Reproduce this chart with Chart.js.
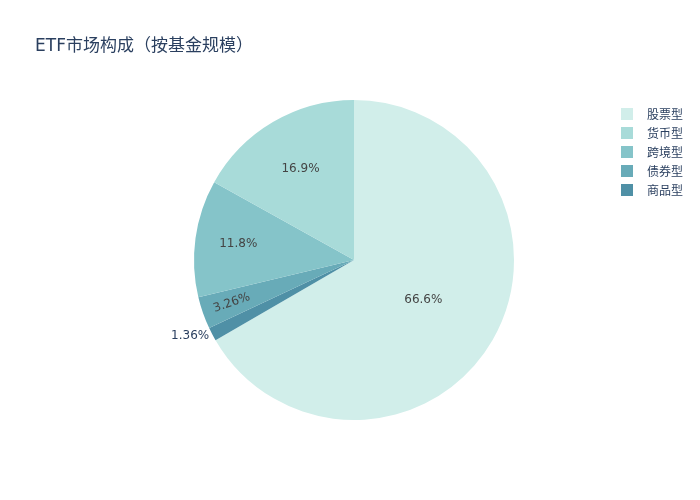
<!DOCTYPE html>
<html>
<head>
<meta charset="utf-8">
<script src="https://cdn.jsdelivr.net/npm/chart.js@4.4.1/dist/chart.umd.min.js"></script>
<style>
  html, body { margin: 0; padding: 0; background: #fff; }
  #wrap { position: relative; width: 700px; height: 500px; font-family: "DejaVu Sans", "Noto Sans CJK SC", sans-serif; color: #2a3f5f; }
  #title { position: absolute; left: 35px; top: 33px; font-size: 17px; line-height: 24px; white-space: nowrap; }
  #legend { position: absolute; left: 621px; top: 104px; font-size: 12px; }
  .item { display: flex; align-items: center; height: 19px; }
  .box { width: 12px; height: 12px; margin-right: 14px; }
</style>
</head>
<body>
<div id="wrap">
  <canvas id="myChart" width="700" height="500"></canvas>
  <div id="title">ETF市场构成（按基金规模）</div>
  <div id="legend"></div>
</div>
<script>
// legend order
var categories = ["股票型", "货币型", "跨境型", "债券型", "商品型"]
var values = [66.58, 16.9, 11.8, 3.26, 1.36]
var colors = ["rgb(209, 238, 234)", "rgb(168, 219, 217)", "rgb(133, 196, 201)", "rgb(104, 171, 184)", "rgb(79, 144, 166)"]
// order the slices go round clockwise from 12 o'clock
var drawOrder = [0, 4, 3, 2, 1]

var labels = drawOrder.map(function(i){ return categories[i] })
var data = drawOrder.map(function(i){ return values[i] })
var bg = drawOrder.map(function(i){ return colors[i] })

function fmtPct(v, total){
    var p = v / total * 100
    return Number(p.toPrecision(3)) + "%"
}

var pieLabels = {
    id: "pieLabels",
    afterDatasetsDraw: function(chart){
        var ctx = chart.ctx
        var meta = chart.getDatasetMeta(0)
        var ds = chart.data.datasets[0].data
        var total = ds.reduce(function(a, b){ return a + b }, 0)
        ctx.save()
        ctx.font = '12px "DejaVu Sans", "Noto Sans CJK SC", sans-serif'
        ctx.textBaseline = "middle"
        meta.data.forEach(function(arc, i){
            var p = arc.getProps(["x", "y", "startAngle", "endAngle", "outerRadius"], true)
            var span = p.endAngle - p.startAngle
            var mid = (p.startAngle + p.endAngle) / 2
            var txt = fmtPct(ds[i], total)
            var deg = span * 180 / Math.PI
            if (deg < 8) {
                // too thin, put it outside
                var ex = p.x + Math.cos(mid) * p.outerRadius
                var ey = p.y + Math.sin(mid) * p.outerRadius
                var left = Math.cos(mid) < 0
                ctx.fillStyle = "#2a3f5f"
                ctx.textAlign = left ? "right" : "left"
                ctx.fillText(txt, ex + (left ? -3 : 3), ey + 2)
            } else if (deg < 20) {
                // narrow slice, text along the radius
                var r = p.outerRadius * 0.81
                ctx.save()
                ctx.fillStyle = "#444"
                ctx.translate(p.x + Math.cos(mid) * r, p.y + Math.sin(mid) * r)
                var rot = mid
                if (Math.cos(mid) < 0) rot = mid - Math.PI
                ctx.rotate(rot)
                ctx.textAlign = "center"
                ctx.fillText(txt, 0, 0)
                ctx.restore()
            } else {
                var f = deg > 180 ? 0.5 : (deg > 50 ? 0.66 : 0.73)
                ctx.fillStyle = "#444"
                ctx.textAlign = "center"
                ctx.fillText(txt, p.x + Math.cos(mid) * p.outerRadius * f, p.y + Math.sin(mid) * p.outerRadius * f)
            }
        })
        ctx.restore()
    }
}

const ctx = document.getElementById("myChart").getContext("2d")
var myChart = new Chart(ctx, {
    type: "pie",
    data: {
        labels: labels,
        datasets: [{
            data: data,
            backgroundColor: bg,
            borderWidth: 0
        }]
    },
    options: {
        responsive: false,
        animation: false,
        layout: { padding: { top: 100, bottom: 80, left: 194, right: 186 } },
        plugins: {
            legend: { display: false },
            title: { display: false },
            tooltip: { enabled: false }
        }
    },
    plugins: [pieLabels]
})

// legend in the original category order
var legendBox = document.getElementById("legend")
categories.forEach(function(c, i){
    var row = document.createElement("div")
    row.className = "item"
    var sw = document.createElement("span")
    sw.className = "box"
    sw.style.background = colors[i]
    var t = document.createElement("span")
    t.textContent = c
    row.appendChild(sw)
    row.appendChild(t)
    legendBox.appendChild(row)
})
</script>
</body>
</html>
